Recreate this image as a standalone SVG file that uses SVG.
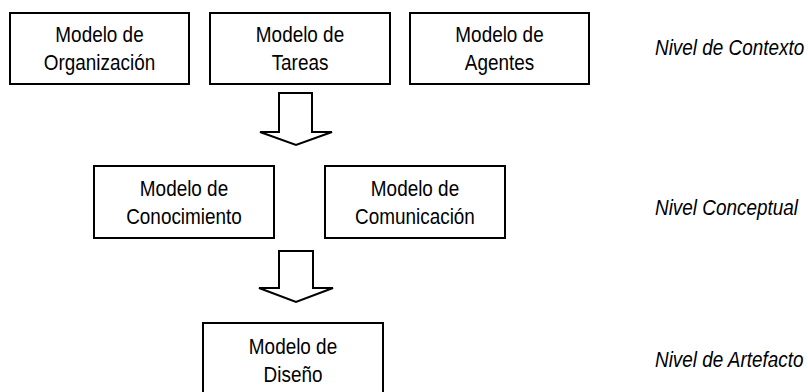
<svg xmlns="http://www.w3.org/2000/svg" width="808" height="392" viewBox="0 0 808 392">
<style>
.box{fill:#fff;stroke:#000;stroke-width:2}
.t{font-family:"Liberation Sans",Arial,sans-serif;font-size:22px;fill:#000;text-anchor:middle}
.lv{font-family:"Liberation Sans",Arial,sans-serif;font-size:22px;font-style:italic;fill:#000}
.arr{fill:#fff;stroke:#000;stroke-width:2;stroke-linejoin:miter}
</style>
<rect width="808" height="392" fill="#fff"/>
<g id="organizacion"><rect class="box" x="10" y="13" width="179" height="71"/><text class="t" transform="translate(99.5,42) scale(0.86,1)">Modelo de</text><text class="t" transform="translate(99.5,70) scale(0.86,1)">Organización</text></g>
<g id="tareas"><rect class="box" x="210" y="13" width="180" height="71"/><text class="t" transform="translate(300,42) scale(0.86,1)">Modelo de</text><text class="t" transform="translate(300,70) scale(0.86,1)">Tareas</text></g>
<g id="agentes"><rect class="box" x="410" y="13" width="179" height="71"/><text class="t" transform="translate(499.5,42) scale(0.86,1)">Modelo de</text><text class="t" transform="translate(499.5,70) scale(0.86,1)">Agentes</text></g>
<g id="conocimiento"><rect class="box" x="94" y="166" width="180" height="72"/><text class="t" transform="translate(184,196) scale(0.86,1)">Modelo de</text><text class="t" transform="translate(184,224) scale(0.86,1)">Conocimiento</text></g>
<g id="comunicacion"><rect class="box" x="325" y="166" width="180" height="72"/><text class="t" transform="translate(415,196) scale(0.86,1)">Modelo de</text><text class="t" transform="translate(415,224) scale(0.86,1)">Comunicación</text></g>
<g id="diseno"><rect class="box" x="203" y="323" width="180" height="80"/><text class="t" transform="translate(293,354) scale(0.86,1)">Modelo de</text><text class="t" transform="translate(293,382) scale(0.86,1)">Diseño</text></g>
<g id="connectors">
<path class="arr" d="M279,93 H312 V132 H332 L296,145 L260,132 H279 Z"/>
<path class="arr" d="M279,251 H313 V288 H333 L296,302 L259,288 H279 Z"/>
</g>
<g id="levels">
<text class="lv" transform="translate(655,55) scale(0.86,1)">Nivel de Contexto</text>
<text class="lv" transform="translate(655,215) scale(0.86,1)">Nivel Conceptual</text>
<text class="lv" transform="translate(655,367) scale(0.86,1)">Nivel de Artefacto</text>
</g>
</svg>
